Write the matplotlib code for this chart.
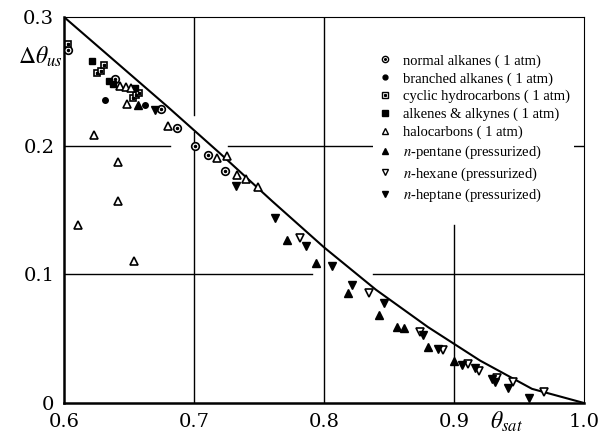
import numpy as np
import matplotlib
matplotlib.use('Agg')
import matplotlib.pyplot as plt
from matplotlib.lines import Line2D
from matplotlib.legend_handler import HandlerTuple

plt.rcParams['mathtext.fontset'] = 'stix'

# theoretical curve
curve_x = [0.60, 0.64, 0.68, 0.72, 0.76, 0.80, 0.84, 0.88, 0.92, 0.96, 1.00]
curve_y = [0.300, 0.265, 0.230, 0.194, 0.157, 0.121, 0.088, 0.059, 0.033, 0.011, 0.000]

# 1 atm data
normal_x = [0.6031, 0.7008, 0.7238, 0.6746, 0.7108, 0.6869, 0.6392]
normal_y = [0.2743, 0.1997, 0.1803, 0.2284, 0.1927, 0.2137, 0.2517]

branched_x = [0.6623, 0.6315]
branched_y = [0.2315, 0.2354]

cyclic_x = [0.6031, 0.6254, 0.6285, 0.6308, 0.6531, 0.6554, 0.6577]
cyclic_y = [0.2789, 0.2564, 0.2580, 0.2626, 0.2370, 0.2393, 0.2409]

alkene_x = [0.6215, 0.6346, 0.6377, 0.6546]
alkene_y = [0.2657, 0.2502, 0.2479, 0.2448]

halo_x = [0.6231, 0.6415, 0.6415, 0.6108, 0.6538, 0.6485, 0.6800, 0.7177, 0.7254,
          0.7331, 0.7400, 0.7492, 0.6431, 0.6477, 0.6515]
halo_y = [0.2082, 0.1873, 0.1570, 0.1383, 0.1103, 0.2323, 0.2152, 0.1904, 0.1919,
          0.1772, 0.1740, 0.1678, 0.2463, 0.2455, 0.2448]

# pressurized data
pentane_x = [0.6569, 0.7715, 0.7938, 0.8185, 0.8423, 0.8562, 0.8615, 0.8800, 0.9000]
pentane_y = [0.2315, 0.1267, 0.1088, 0.0855, 0.0684, 0.0590, 0.0583, 0.0435, 0.0326]

hexane_x = [0.7815, 0.8346, 0.8738, 0.8915, 0.9108, 0.9192, 0.9331, 0.9454, 0.9692]
hexane_y = [0.1282, 0.0855, 0.0552, 0.0412, 0.0303, 0.0249, 0.0194, 0.0163, 0.0085]

heptane_x = [0.6700, 0.7323, 0.7623, 0.7862, 0.8062, 0.8215, 0.8462, 0.8762, 0.8877,
             0.9062, 0.9162, 0.9292, 0.9315, 0.9415, 0.9577]
heptane_y = [0.2277, 0.1686, 0.1437, 0.1220, 0.1064, 0.0917, 0.0777, 0.0528, 0.0420,
             0.0295, 0.0272, 0.0186, 0.0163, 0.0117, 0.0039]

xticks = [0.6, 0.7, 0.8, 0.9, 1.0]
xticklabels = ['0.6', '0.7', '0.8', '0.9', '1.0']
yticks = [0.0, 0.1, 0.2, 0.3]
yticklabels = ['0', '0.1', '0.2', '0.3']

fig = plt.figure(figsize=(6.04, 4.34), dpi=100)
ax = fig.add_axes([64/604, 31/434, 520/604, 386/434])

# broken grid lines like the scanned original
ax.axhline(0.2, 0.0, 0.204, color='k', lw=1.0)
ax.axhline(0.2, 0.315, 0.592, color='k', lw=1.0)
ax.axhline(0.2, 0.915, 1.0, color='k', lw=1.0)
ax.axhline(0.1, 0.0, 0.477, color='k', lw=1.0)
ax.axhline(0.1, 0.594, 1.0, color='k', lw=1.0)
ax.axvline(0.7, 0.0, 0.702, color='k', lw=1.0)
ax.axvline(0.7, 0.746, 1.0, color='k', lw=1.0)
ax.axvline(0.8, 0.0, 1.0, color='k', lw=1.0)
ax.axvline(0.9, 0.0, 0.46, color='k', lw=1.0)

ax.plot(curve_x, curve_y, color='k', lw=1.5, zorder=3)

mk = dict(linestyle='none', color='k', zorder=4)
ax.plot(normal_x, normal_y, marker='o', ms=5.5, mfc='white', mew=1.2, **mk)
ax.plot(normal_x, normal_y, marker='o', ms=1.5, **mk)
ax.plot(branched_x, branched_y, marker='o', ms=4, **mk)
ax.plot(cyclic_x, cyclic_y, marker='s', ms=5, mfc='white', mew=1.2, **mk)
ax.plot(cyclic_x, cyclic_y, marker='s', ms=1.5, **mk)
ax.plot(alkene_x, alkene_y, marker='s', ms=5, **mk)
ax.plot(halo_x, halo_y, marker='^', ms=5.5, mfc='white', mew=1.2, **mk)
ax.plot(pentane_x, pentane_y, marker='^', ms=5.5, **mk)
ax.plot(hexane_x, hexane_y, marker='v', ms=5.5, mfc='white', mew=1.2, **mk)
ax.plot(heptane_x, heptane_y, marker='v', ms=5.5, **mk)

ax.set_xlim(0.6, 1.0)
ax.set_ylim(0.0, 0.3)
ax.set_xticks(xticks)
ax.set_xticklabels(xticklabels, family='DejaVu Serif', fontsize=14)
ax.set_yticks(yticks)
ax.set_yticklabels(yticklabels, family='DejaVu Serif', fontsize=14)
ax.tick_params(length=0, pad=7)
ax.spines['left'].set_linewidth(1.8)
ax.spines['bottom'].set_linewidth(1.8)
ax.spines['top'].set_linewidth(0.8)
ax.spines['right'].set_linewidth(0.8)

fig.text(40/604, 1 - 57/434, r'$\mathit{\Delta}\theta_{us}$', fontsize=17,
         ha='center', va='center')
fig.text(506/604, 1 - 422/434, r'$\theta_{sat}$', fontsize=17,
         ha='center', va='center')

# legend
def h(marker, ms, mfc='k', dot=False):
    main = Line2D([], [], ls='none', marker=marker, ms=ms, color='k', mfc=mfc, mew=1.0)
    if dot:
        return (main, Line2D([], [], ls='none', marker=marker, ms=1.2, color='k'))
    return main

handles = [h('o', 4.5, 'white', True), h('o', 3.5), h('s', 4.5, 'white', True),
           h('s', 4.5), h('^', 4.5, 'white'), h('^', 4.5), h('v', 4.5, 'white'),
           h('v', 4.5)]
labels = ['normal alkanes ( 1 atm)', 'branched alkanes ( 1 atm)',
          'cyclic hydrocarbons ( 1 atm)', 'alkenes & alkynes ( 1 atm)',
          'halocarbons ( 1 atm)', r'$n$-pentane (pressurized)',
          r'$n$-hexane (pressurized)', r'$n$-heptane (pressurized)']
leg = ax.legend(handles, labels, loc='upper left', bbox_to_anchor=(0.595, 0.915),
                handler_map={tuple: HandlerTuple(ndivide=1)},
                prop={'family': 'Liberation Serif', 'size': 10.5},
                frameon=True, facecolor='white', edgecolor='none', framealpha=1,
                handlelength=1.0, handletextpad=0.7, labelspacing=0.3,
                borderpad=0.3, borderaxespad=0)
leg.set_zorder(5)

plt.savefig('out.png', dpi=100)
